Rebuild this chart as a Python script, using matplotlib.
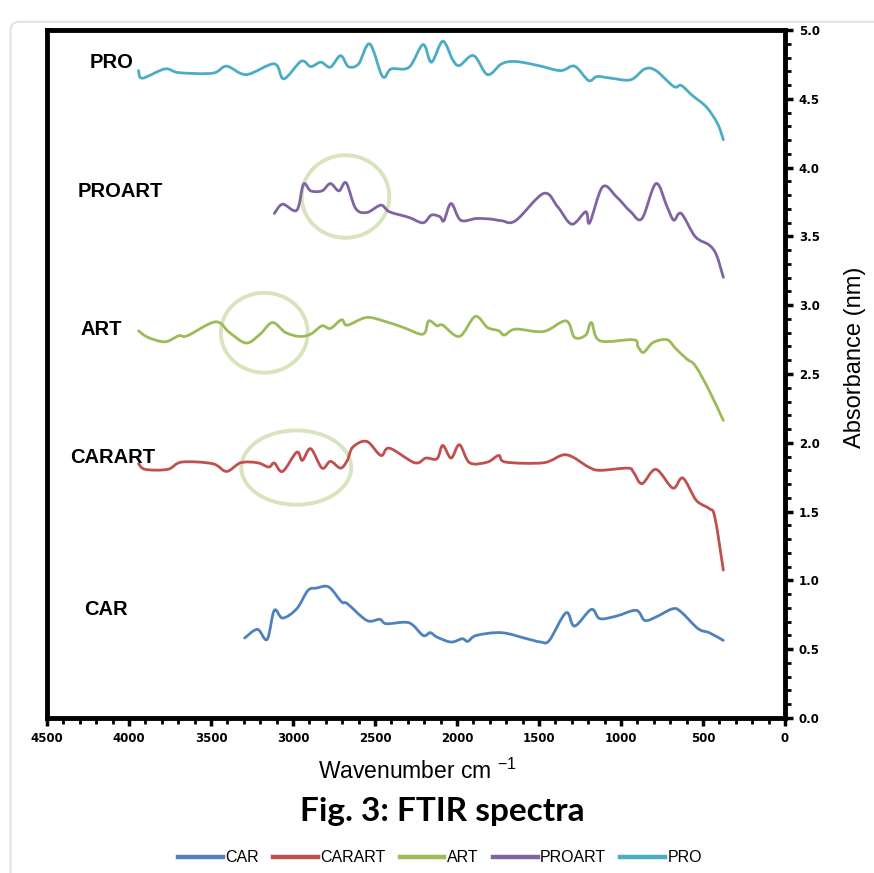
import matplotlib
matplotlib.use("Agg")
import matplotlib.pyplot as plt
from matplotlib.patches import Ellipse, FancyBboxPatch, PathPatch
from matplotlib.path import Path
from matplotlib.lines import Line2D
from matplotlib.ticker import MultipleLocator, FormatStrFormatter

# ---------------- data ----------------
pro_x = [3942, 3918, 3781, 3696, 3490, 3405, 3285, 3114, 3056, 2950, 2892, 2830, 2772,
         2710, 2662, 2600, 2532, 2454, 2402, 2293, 2207, 2156, 2087, 2026, 1985, 1899,
         1814, 1728, 1643, 1506, 1369, 1283, 1198, 1146, 1061, 941, 855, 787, 678, 633,
         565, 479, 411, 376]
pro_y = [4.705, 4.650, 4.717, 4.690, 4.686, 4.737, 4.676, 4.754, 4.645, 4.773, 4.734,
         4.766, 4.730, 4.814, 4.734, 4.754, 4.899, 4.662, 4.717, 4.729, 4.894, 4.766,
         4.918, 4.783, 4.742, 4.814, 4.676, 4.754, 4.771, 4.742, 4.705, 4.737, 4.633,
         4.662, 4.650, 4.638, 4.717, 4.705, 4.589, 4.597, 4.524, 4.440, 4.319, 4.203]

proart_x = [3114, 3063, 2977, 2936, 2892, 2823, 2772, 2720, 2676, 2618, 2549, 2464, 2412,
            2293, 2207, 2156, 2104, 2080, 2036, 1978, 1882, 1797, 1728, 1643, 1472, 1386,
            1300, 1215, 1191, 1112, 1027, 941, 872, 787, 719, 678, 633, 547, 462, 418, 376]
proart_y = [3.667, 3.734, 3.690, 3.879, 3.831, 3.831, 3.884, 3.831, 3.889, 3.703, 3.674,
            3.727, 3.679, 3.638, 3.599, 3.655, 3.643, 3.614, 3.739, 3.618, 3.630, 3.626,
            3.614, 3.614, 3.812, 3.715, 3.589, 3.679, 3.599, 3.860, 3.787, 3.679, 3.630,
            3.884, 3.715, 3.618, 3.667, 3.498, 3.437, 3.365, 3.203]

art_x = [3942, 3884, 3781, 3696, 3644, 3473, 3388, 3285, 3200, 3125, 3046, 2960, 2892,
         2823, 2772, 2704, 2669, 2550, 2430, 2327, 2207, 2173, 2122, 2087, 1985, 1889,
         1814, 1745, 1711, 1643, 1472, 1335, 1283, 1215, 1180, 1129, 924, 897, 863, 804,
         719, 667, 599, 547, 462, 376]
art_y = [2.814, 2.766, 2.734, 2.778, 2.778, 2.879, 2.802, 2.725, 2.790, 2.874, 2.802,
         2.773, 2.790, 2.850, 2.831, 2.894, 2.855, 2.911, 2.879, 2.838, 2.790, 2.886,
         2.850, 2.855, 2.773, 2.918, 2.838, 2.814, 2.783, 2.826, 2.809, 2.886, 2.766,
         2.783, 2.874, 2.742, 2.749, 2.700, 2.657, 2.729, 2.749, 2.686, 2.609, 2.560,
         2.379, 2.162]

carart_x = [3942, 3901, 3764, 3678, 3490, 3405, 3319, 3217, 3148, 3114, 3063, 2977, 2943,
            2892, 2823, 2772, 2710, 2669, 2635, 2550, 2464, 2412, 2258, 2190, 2122, 2087,
            2036, 1985, 1923, 1814, 1745, 1704, 1472, 1335, 1198, 1129, 958, 924, 872,
            787, 684, 623, 541, 462, 428, 376]
carart_y = [1.848, 1.807, 1.807, 1.860, 1.848, 1.792, 1.855, 1.855, 1.824, 1.853, 1.792,
            1.932, 1.872, 1.957, 1.816, 1.865, 1.816, 1.872, 1.969, 2.010, 1.908, 1.961,
            1.855, 1.889, 1.884, 1.981, 1.889, 1.986, 1.855, 1.860, 1.908, 1.860, 1.855,
            1.913, 1.824, 1.800, 1.816, 1.787, 1.703, 1.807, 1.671, 1.744, 1.582, 1.522,
            1.461, 1.075]

car_x = [3295, 3217, 3158, 3114, 3063, 2977, 2909, 2857, 2782, 2703, 2669, 2550, 2471,
         2430, 2293, 2207, 2163, 2122, 2036, 1968, 1934, 1882, 1728, 1574, 1489, 1437,
         1335, 1283, 1181, 1129, 1027, 907, 855, 787, 684, 633, 530, 462, 376]
car_y = [0.581, 0.644, 0.571, 0.782, 0.726, 0.794, 0.927, 0.944, 0.952, 0.843, 0.831,
         0.709, 0.717, 0.685, 0.692, 0.600, 0.620, 0.588, 0.552, 0.576, 0.557, 0.600,
         0.620, 0.576, 0.552, 0.564, 0.765, 0.668, 0.789, 0.722, 0.741, 0.782, 0.709,
         0.734, 0.794, 0.770, 0.649, 0.620, 0.564]

series_names = ["CAR", "CARART", "ART", "PROART", "PRO"]
series_colors = ["#4f81bd", "#c0504d", "#9bbb59", "#8064a2", "#4bacc6"]

# in-plot labels
label_names = ["PRO", "PROART", "ART", "CARART", "CAR"]
label_x = [4104, 4055, 4171, 4098, 4140]
label_y = [4.767, 3.823, 2.826, 1.893, 0.785]

# highlight ellipses: centre x, centre y, width, height
ell_cx = [2680, 3175, 2980]
ell_cy = [3.79, 2.80, 1.82]
ell_w = [535, 530, 670]
ell_h = [0.60, 0.58, 0.54]


def smooth_path(x, y):
    """Excel-like smoothed line: cubic Bezier segments through every data point."""
    n = len(x)
    verts = [(x[0], y[0])]
    codes = [Path.MOVETO]
    for i in range(n - 1):
        x0, y0 = (x[i - 1], y[i - 1]) if i > 0 else (x[i], y[i])
        x1, y1 = x[i], y[i]
        x2, y2 = x[i + 1], y[i + 1]
        x3, y3 = (x[i + 2], y[i + 2]) if i + 2 < n else (x2, y2)
        c1 = (x1 + (x2 - x0) / 6.0, y1 + (y2 - y0) / 6.0)
        c2 = (x2 - (x3 - x1) / 6.0, y2 - (y3 - y1) / 6.0)
        verts += [c1, c2, (x2, y2)]
        codes += [Path.CURVE4] * 3
    return Path(verts, codes)


# ---------------- figure ----------------
fig = plt.figure(figsize=(8.74, 8.73), dpi=100)
fig.patch.set_facecolor("white")

frame = FancyBboxPatch((0.012, -0.02), 1.05, 0.995, boxstyle="round,pad=0,rounding_size=0.01",
                       transform=fig.transFigure, facecolor="none", edgecolor="#e3e3e3",
                       linewidth=1.5, zorder=0)
fig.patches.append(frame)

ax = fig.add_axes([47 / 874, 1 - 718 / 873, (785 - 47) / 874, (718 - 30) / 873])

xs = [car_x, carart_x, art_x, proart_x, pro_x]
ys = [car_y, carart_y, art_y, proart_y, pro_y]
handles = []
for x, y, name, c in zip(xs, ys, series_names, series_colors):
    ax.add_patch(PathPatch(smooth_path(x, y), facecolor="none", edgecolor=c, lw=2.0,
                           joinstyle="round", capstyle="round", zorder=3))
    handles.append(Line2D([], [], color=c, lw=3.2, label=name))

for cx, cy, w, h in zip(ell_cx, ell_cy, ell_w, ell_h):
    ax.add_patch(Ellipse((cx, cy), w, h, facecolor="none", edgecolor="#d7e4bd",
                         linewidth=2.8, zorder=2))

for t, x, y in zip(label_names, label_x, label_y):
    ax.text(x, y, t, ha="center", va="center", fontsize=14.5, fontweight="bold",
            family="Liberation Sans", color="black")

ax.set_xlim(4500, 0)
ax.set_ylim(0, 5.0)
ax.xaxis.set_major_locator(MultipleLocator(500))
ax.xaxis.set_minor_locator(MultipleLocator(100))
ax.yaxis.set_major_locator(MultipleLocator(0.5))
ax.yaxis.set_minor_locator(MultipleLocator(0.1))
ax.yaxis.tick_right()
ax.tick_params(axis="both", which="major", direction="out", length=6, width=2.5,
               labelsize=8.5, pad=4)
ax.tick_params(axis="both", which="minor", direction="out", length=4, width=2)
ax.tick_params(axis="y", which="both", left=False, right=True)
ax.tick_params(axis="x", which="both", top=False, bottom=True)
ax.yaxis.set_major_formatter(FormatStrFormatter("%.1f"))
for lab in ax.get_xticklabels() + ax.get_yticklabels():
    lab.set_fontweight("bold")
    lab.set_family("DejaVu Sans")
for s in ax.spines.values():
    s.set_linewidth(3.5)
    s.set_color("black")

fig.text(417 / 874, 1 - 771 / 873, r"Wavenumber cm $^{\mathregular{-1}}$", ha="center",
         va="center", fontsize=16.5, family="Liberation Sans")
fig.text(855 / 874, 1 - 357 / 873, "Absorbance (nm)", ha="center", va="center",
         rotation=90, fontsize=17, family="Liberation Sans")
fig.text(442 / 874, 1 - 812 / 873, "Fig. 3: FTIR spectra", ha="center", va="center",
         fontsize=24, fontweight="bold", family="Lato")

leg = fig.legend(handles=handles, loc="center", bbox_to_anchor=(440 / 874, 1 - 858 / 873),
                 ncol=5, frameon=False, handlelength=2.8, columnspacing=0.9,
                 handletextpad=0.15, prop={"family": "Liberation Sans", "size": 11.5})

fig.savefig("out.png", dpi=100, facecolor="white")
